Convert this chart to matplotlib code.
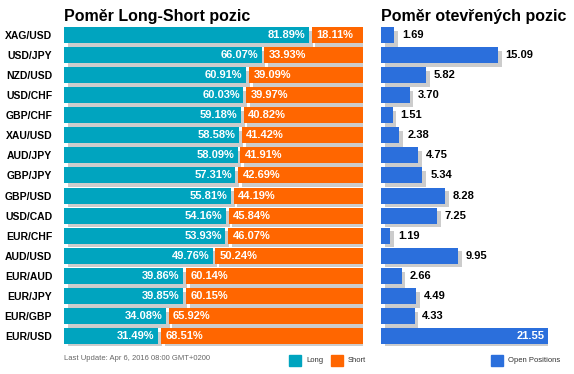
import numpy as np
import matplotlib.pyplot as plt
from matplotlib.patches import Rectangle
import matplotlib.patheffects as pe

plt.rcParams['font.family'] = ['Liberation Sans', 'DejaVu Sans']

pairs = ["XAG/USD", "USD/JPY", "NZD/USD", "USD/CHF", "GBP/CHF", "XAU/USD", "AUD/JPY", "GBP/JPY",
         "GBP/USD", "USD/CAD", "EUR/CHF", "AUD/USD", "EUR/AUD", "EUR/JPY", "EUR/GBP", "EUR/USD"]
long_pct = [81.89, 66.07, 60.91, 60.03, 59.18, 58.58, 58.09, 57.31,
            55.81, 54.16, 53.93, 49.76, 39.86, 39.85, 34.08, 31.49]
short_pct = [18.11, 33.93, 39.09, 39.97, 40.82, 41.42, 41.91, 42.69,
             44.19, 45.84, 46.07, 50.24, 60.14, 60.15, 65.92, 68.51]
open_pos = [1.69, 15.09, 5.82, 3.70, 1.51, 2.38, 4.75, 5.34,
            8.28, 7.25, 1.19, 9.95, 2.66, 4.49, 4.33, 21.55]

C_LONG = '#00a4bf'
C_SHORT = '#ff6600'
C_OPEN = '#2b6fdc'
W, H = 574, 374

fig = plt.figure(figsize=(W / 100, H / 100), dpi=100)


def box(x0, y0, x1, y1):
    # pixel box -> figure fraction
    return [x0 / W, 1 - y1 / H, (x1 - x0) / W, (y1 - y0) / H]


shadow = [pe.SimplePatchShadow(offset=(2.7, -2.7), shadow_rgbFace='#cccccc', alpha=1), pe.Normal()]
y = np.arange(len(pairs))
gap = 0.9
bh = 0.8

# left: long/short split
ax = fig.add_axes(box(64, 25, 363, 346))
ax.barh(y, long_pct, height=bh, color=C_LONG, path_effects=shadow)
ax.barh(y, [100 - l - gap for l in long_pct], left=[l + gap for l in long_pct],
        height=bh, color=C_SHORT, path_effects=shadow)
for i in range(len(pairs)):
    ax.text(long_pct[i] - 1.2, i, f"{long_pct[i]:.2f}%", ha='right', va='center',
            color='white', fontsize=8, fontweight='bold')
    ax.text(long_pct[i] + gap + 1.5, i, f"{short_pct[i]:.2f}%", ha='left', va='center',
            color='white', fontsize=8, fontweight='bold')
ax.set_xlim(0, 100)
ax.set_ylim(len(pairs) - 0.5, -0.5)
ax.set_yticks(y)
ax.set_yticklabels(pairs, fontsize=7.5, fontweight='bold')
ax.tick_params(axis='y', length=0, pad=8.5)
ax.set_xticks([])
for s in ax.spines.values():
    s.set_visible(False)

# right: open positions
ax2 = fig.add_axes(box(381, 25, 548, 346))
ax2.barh(y, open_pos, height=bh, color=C_OPEN, path_effects=shadow)
for i, v in enumerate(open_pos):
    if v > 20:
        ax2.text(v - 0.4, i, f"{v:.2f}", ha='right', va='center', color='white',
                 fontsize=8, fontweight='bold')
    else:
        ax2.text(v + 1.0, i, f"{v:.2f}", ha='left', va='center', color='black',
                 fontsize=8, fontweight='bold', clip_on=False)
ax2.set_xlim(0, 21.55)
ax2.set_ylim(len(pairs) - 0.5, -0.5)
ax2.axis('off')

# titles
fig.text(64 / W, 1 - 16 / H, "Poměr Long-Short pozic", fontsize=11.5, fontweight='bold', va='center')
fig.text(381 / W, 1 - 16 / H, "Poměr otevřených pozic", fontsize=11.5, fontweight='bold', va='center')

# footer
fig.text(64 / W, 1 - 358 / H, "Last Update: Apr 6, 2016 08:00 GMT+0200", fontsize=5.5,
         color='#666666', va='center')
for x0, col, lab in [(289, C_LONG, "Long"), (331, C_SHORT, "Short"), (491, C_OPEN, "Open Positions")]:
    fig.add_artist(Rectangle((x0 / W, 1 - 366 / H), 12 / W, 11 / H, color=col,
                             transform=fig.transFigure))
    fig.text((x0 + 17) / W, 1 - 360.5 / H, lab, fontsize=5.5, color='#333333', va='center')

fig.savefig("out.png", dpi=100)
